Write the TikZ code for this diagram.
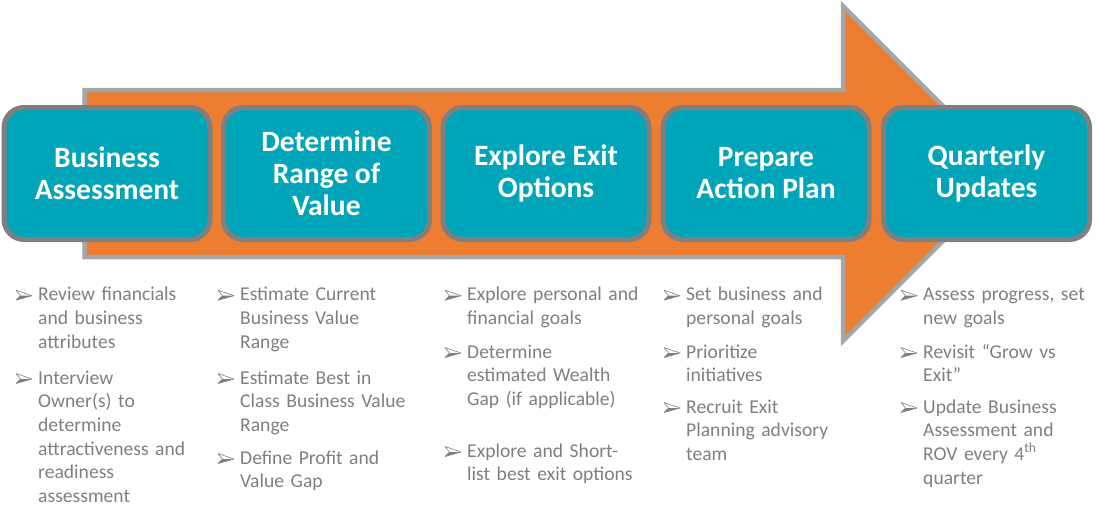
\documentclass[tikz,border=0pt]{standalone}
\usepackage{fontspec}
\setmainfont{Carlito}
\usepackage{xcolor}
\usepackage{tikz}

\definecolor{stageteal}{RGB}{0,165,185}
\definecolor{stageorange}{RGB}{237,125,49}
\definecolor{edgegray}{RGB}{127,127,127}
\definecolor{shaftgray}{RGB}{166,166,166}
\definecolor{itemgray}{RGB}{127,127,127}

% one bullet: name, x of text, baseline y, lines
\newcommand{\stageitem}[4]{%
    \node[itemtext] (#1) at (#2,#3) {#4};
    \begin{scope}[shift={(#2-22,#3)}]
        \draw[itemgray, line width=0.6pt, fill=white, line join=round]
            (0,-10.5) -- (16,-5) -- (0,-0.5) -- (4.5,-5) -- cycle;
        \fill[itemgray] (4.5,-5) -- (16,-5) -- (0,-0.5) -- cycle;
    \end{scope}
}

\begin{document}
\begin{tikzpicture}[x=1pt, y=-1pt,
        stage/.style={draw=edgegray, line width=5pt, fill=stageteal,
            rounded corners=20pt, minimum width=206pt, minimum height=132pt,
            text=white, align=center, inner sep=0pt,
            font=\fontsize{29.5}{32}\selectfont\bfseries},
        itemtext/.style={anchor=base west, inner sep=0pt, text width=200pt,
            align=left, text=itemgray, font=\fontsize{19.6}{23.7}\selectfont}]
    \useasboundingbox (0,0) rectangle (1100,520);

    % Big arrow
    \draw[shaftgray, line width=4.5pt, fill=stageorange, line join=miter]
        (84.5,90) -- (843,90) -- (843,6) -- (1010.5,173.5)
        -- (843,341) -- (843,257) -- (84.5,257) -- cycle;

    % Stages
    \node[stage] (s1) at (107,173.5) {Business\\Assessment};
    \node[stage] (s2) at (326.5,173.5) {Determine\\Range of\\Value};
    \node[stage] (s3) at (546,173.5) {Explore Exit\\Options};
    \node[stage] (s4) at (766,173.5) {Prepare\\Action Plan};
    \node[stage] (s5) at (986.5,173.5) {Quarterly\\Updates};

    % Bullets under each stage
    \stageitem{a1}{38}{300.7}{Review financials\\and business\\attributes}
    \stageitem{a2}{38}{384}{Interview\\Owner(s) to\\determine\\attractiveness and\\readiness\\assessment}

    \stageitem{b1}{240}{300.7}{Estimate Current\\Business Value\\Range}
    \stageitem{b2}{240}{384}{Estimate Best in\\Class Business Value\\Range}
    \stageitem{b3}{240}{464}{Define Profit and\\Value Gap}

    \stageitem{c1}{467}{300.7}{Explore personal and\\financial goals}
    \stageitem{c2}{467}{358}{Determine\\estimated Wealth\\Gap (if applicable)}
    \stageitem{c3}{467}{457}{Explore and Short-\\list best exit options}

    \stageitem{d1}{686}{300.7}{Set business and\\personal goals}
    \stageitem{d2}{686}{358}{Prioritize\\initiatives}
    \stageitem{d3}{686}{413}{Recruit Exit\\Planning advisory\\team}

    \stageitem{e1}{923}{300.7}{Assess progress, set\\new goals}
    \stageitem{e2}{923}{358}{Revisit “Grow vs\\Exit”}
    \stageitem{e3}{923}{413}{Update Business\\Assessment and\\ROV every 4\textsuperscript{th}\\quarter}
\end{tikzpicture}
\end{document}
